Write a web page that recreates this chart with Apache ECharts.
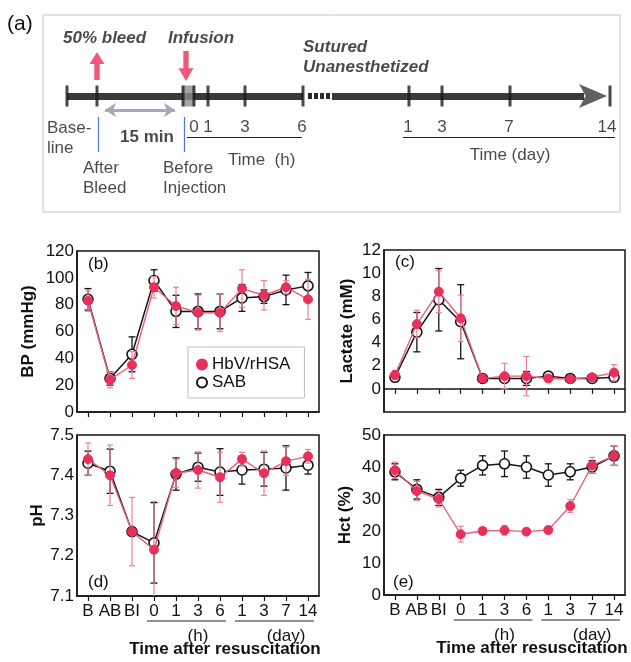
<!DOCTYPE html>
<html>
<head>
<meta charset="utf-8">
<script src="https://cdn.jsdelivr.net/npm/echarts@6/dist/echarts.min.js"></script>
<style>
  html, body { margin: 0; padding: 0; background: #fff; }
  #main { width: 631px; height: 662px; }
</style>
</head>
<body>
<div id="main"></div>
<script>
"use strict";

/* ---------- data ---------- */
const categories = ["B", "AB", "BI", "0", "1", "3", "6", "1", "3", "7", "14"];

const bpHbv     = [83, 24, 35, 93, 79, 74, 74, 92, 87, 93, 84];
const bpHbvErr  = [8, 6, 10, 8, 14, 13, 14, 14, 11, 5, 15];
const bpSab     = [84, 25, 43, 98, 75, 75, 75, 85, 86, 91, 94];
const bpSabErr  = [8, 5, 13, 8, 12, 13, 13, 10, 5, 11, 10];

const lacHbv    = [1.2, 5.6, 8.4, 6.1, 0.9, 1.1, 1.1, 0.9, 0.85, 1.0, 1.4];
const lacHbvErr = [0.4, 1.2, 1.8, 2.0, 0.3, 1.1, 1.7, 0.3, 0.2, 0.3, 0.7];
const lacSab    = [1.0, 4.9, 7.7, 5.8, 0.9, 0.9, 0.9, 1.1, 0.9, 0.9, 1.0];
const lacSabErr = [0.3, 1.7, 2.7, 3.2, 0.3, 0.3, 0.6, 0.3, 0.2, 0.2, 0.2];

const phHbv     = [7.44, 7.40, 7.26, 7.215, 7.405, 7.413, 7.395, 7.44, 7.405, 7.435, 7.447];
const phHbvErr  = [0.04, 0.075, 0.085, 0.12, 0.035, 0.045, 0.062, 0.017, 0.055, 0.035, 0.017];
const phSab     = [7.43, 7.41, 7.26, 7.232, 7.403, 7.42, 7.408, 7.413, 7.415, 7.418, 7.425];
const phSabErr  = [0.03, 0.055, 0, 0.10, 0.04, 0.035, 0.058, 0.035, 0.042, 0.055, 0.022];

const hctHbv    = [39, 32.5, 30, 19, 20, 20.2, 19.8, 20.3, 27.8, 40.5, 43.5];
const hctHbvErr = [2.5, 3, 2.5, 2.5, 1, 1.5, 1, 1, 2, 2.5, 3];
const hctSab    = [38.5, 33, 30.5, 36.5, 40.5, 41, 40, 37.5, 38.5, 40, 43.5];
const hctSabErr = [2.5, 3, 2.5, 2.5, 3, 4, 3.5, 3.5, 2.5, 2, 3];

/* ---------- timeline schematic (panel a), in box units ---------- */
const tlY        = 81;
const tlSegments = [[24, 260], [289, 541]];
const tlDots     = [[265, 287]];
const tlTicks    = [24, 54, 140, 151, 165, 202, 260, 366, 399, 467, 567];
const tlBlock    = [145.5];
const tlHead     = [550];
const tlUpArrow  = [[54, 51]];
const tlDownArrow = [[143, 51]];
const tlBlueLines = [[55, 102, 137], [141, 102, 137]];
const tlUnderlines = [[144, 259, 122], [360, 572, 122]];
const tlSpan     = [[62, 132, 95]];
const tlTexts = [
  [20, 23, "50% bleed", "left", "bi"],
  [125, 23, "Infusion", "left", "bi"],
  [260, 32, "Sutured", "left", "bi"],
  [260, 52, "Unanesthetized", "left", "bi"],
  [4, 113, "Base-", "left", ""],
  [4, 133, "line", "left", ""],
  [77, 122, "15 min", "left", "b"],
  [40, 153, "After", "left", ""],
  [40, 173, "Bleed", "left", ""],
  [120, 153, "Before", "left", ""],
  [120, 173, "Injection", "left", ""],
  [151, 112, "0", "center", ""],
  [165, 112, "1", "center", ""],
  [202, 112, "3", "center", ""],
  [259, 112, "6", "center", ""],
  [365, 112, "1", "center", ""],
  [399, 112, "3", "center", ""],
  [466, 112, "7", "center", ""],
  [564, 112, "14", "center", ""],
  [185, 145, "Time  (h)", "left", ""],
  [467, 140, "Time (day)", "center", ""]
];

const FONT = "Liberation Sans, Arial, Helvetica, sans-serif";
const RED = "#e8305a";
const RED_LINE = "#ec5f7e";
const RED_ERR = "#ef8098";
const BLACK = "#151515";

/* ---------- panels b-e ---------- */
const panels = [
  { label: "(b)", grid: { left: 77, top: 251, width: 242, height: 161 }, min: 0, max: 120, interval: 20,
    name: "BP (mmHg)", nameGap: 40, hbv: bpHbv, hbvErr: bpHbvErr, sab: bpSab, sabErr: bpSabErr, showX: false,
    tag: [88, 264] },
  { label: "(c)", grid: { left: 384, top: 250, width: 241, height: 162 }, min: -2, max: 12, interval: 2,
    name: "Lactate (mM)", nameGap: 28, hbv: lacHbv, hbvErr: lacHbvErr, sab: lacSab, sabErr: lacSabErr, showX: false,
    tag: [395, 262], fmt: v => (v < 0 ? "" : v) },
  { label: "(d)", grid: { left: 77, top: 435, width: 242, height: 161 }, min: 7.1, max: 7.5, interval: 0.1,
    name: "pH", nameGap: 31, hbv: phHbv, hbvErr: phHbvErr, sab: phSab, sabErr: phSabErr, showX: true,
    tag: [88, 582], fmt: v => v.toFixed(1) },
  { label: "(e)", grid: { left: 384, top: 435, width: 241, height: 160 }, min: 0, max: 50, interval: 10,
    name: "Hct (%)", nameGap: 30, hbv: hctHbv, hbvErr: hctHbvErr, sab: hctSab, sabErr: hctSabErr, showX: true,
    tag: [393, 582] }
];

function errorBar(color, width, cap) {
  return function (params, api) {
    const i = api.value(0);
    if (api.value(1) === api.value(2)) return null;
    const lo = api.coord([i, api.value(1)]);
    const hi = api.coord([i, api.value(2)]);
    const style = { stroke: color, lineWidth: width };
    return {
      type: "group",
      children: [
        { type: "line", shape: { x1: lo[0], y1: lo[1], x2: hi[0], y2: hi[1] }, style },
        { type: "line", shape: { x1: lo[0] - cap, y1: lo[1], x2: lo[0] + cap, y2: lo[1] }, style },
        { type: "line", shape: { x1: hi[0] - cap, y1: hi[1], x2: hi[0] + cap, y2: hi[1] }, style }
      ]
    };
  };
}

const grids = [], xAxes = [], yAxes = [], series = [];

panels.forEach((p, i) => {
  grids.push(Object.assign({ show: true, borderColor: BLACK, borderWidth: 1.5, backgroundColor: "transparent" }, p.grid));
  xAxes.push({
    type: "category", gridIndex: i, data: categories, boundaryGap: true,
    axisLine: { lineStyle: { color: BLACK, width: 1.5 } },
    axisTick: { show: true, alignWithLabel: true, length: 5, lineStyle: { color: BLACK, width: 1.2 } },
    axisLabel: { show: p.showX, interval: 0, margin: 7, fontSize: 17, color: "#111", fontFamily: FONT },
    splitLine: { show: false }
  });
  yAxes.push({
    type: "value", gridIndex: i, min: p.min, max: p.max, interval: p.interval,
    name: p.name, nameLocation: "middle", nameGap: p.nameGap, nameRotate: 90,
    nameTextStyle: { fontSize: 17, fontWeight: "bold", color: "#111", fontFamily: FONT },
    axisLine: { show: true, lineStyle: { color: BLACK, width: 1.5 } },
    axisTick: { show: false },
    axisLabel: { fontSize: 17, color: "#111", margin: 3, fontFamily: FONT, formatter: p.fmt || (v => v) },
    splitLine: { show: false }
  });

  series.push({
    type: "custom", xAxisIndex: i, yAxisIndex: i, silent: true, clip: true, z: 2,
    data: p.sab.map((v, k) => [k, v - p.sabErr[k], v + p.sabErr[k]]),
    renderItem: errorBar(BLACK, 1.3, 3.5)
  });
  series.push({
    type: "line", name: "SAB", xAxisIndex: i, yAxisIndex: i, data: p.sab, z: 3,
    symbol: "circle", symbolSize: 10,
    itemStyle: { color: "#fff", borderColor: BLACK, borderWidth: 1.6 },
    lineStyle: { color: BLACK, width: 1.5 }
  });
  series.push({
    type: "custom", xAxisIndex: i, yAxisIndex: i, silent: true, clip: true, z: 4,
    data: p.hbv.map((v, k) => [k, v - p.hbvErr[k], v + p.hbvErr[k]]),
    renderItem: errorBar(RED_ERR, 1.2, 3)
  });
  series.push({
    type: "line", name: "HbV/rHSA", xAxisIndex: i, yAxisIndex: i, data: p.hbv, z: 5,
    symbol: "circle", symbolSize: 9,
    itemStyle: { color: RED, borderColor: RED, borderWidth: 1 },
    lineStyle: { color: RED_LINE, width: 1.4 }
  });
});

/* ---------- panel a (timeline) ---------- */
const TL = panels.length;
grids.push({ left: 43, top: 15, width: 577, height: 197, show: true, borderColor: "#c6c6c6", borderWidth: 1 });
xAxes.push({ type: "value", gridIndex: TL, min: 0, max: 577, show: false });
yAxes.push({ type: "value", gridIndex: TL, min: 0, max: 197, inverse: true, show: false });

const tlBase = { xAxisIndex: TL, yAxisIndex: TL, silent: true, animation: false };
const linesBase = Object.assign({ type: "lines", coordinateSystem: "cartesian2d", clip: false }, tlBase);

series.push(Object.assign({}, linesBase, {
  data: tlSegments.map(s => ({ coords: [[s[0], tlY], [s[1], tlY]] })),
  lineStyle: { color: "#3a3a3a", width: 7, opacity: 1 }, z: 2
}));
series.push(Object.assign({}, linesBase, {
  data: tlDots.map(s => ({ coords: [[s[0], tlY], [s[1], tlY]] })),
  lineStyle: { color: "#2a2a2a", width: 6, opacity: 1, type: [4, 2] }, z: 2
}));
series.push(Object.assign({ type: "scatter" }, tlBase, {
  data: tlHead.map(x => [x, tlY]), z: 3,
  symbol: "path://M0,0 L30,12 L0,24 L7,12 Z", symbolSize: [28, 24], symbolKeepAspect: false,
  itemStyle: { color: "#3a3a3a" }
}));
series.push(Object.assign({ type: "scatter" }, tlBase, {
  data: tlBlock.map(x => [x, tlY]), z: 3,
  symbol: "rect", symbolSize: [10, 21], itemStyle: { color: "#8c8c94" }
}));
series.push(Object.assign({ type: "scatter" }, tlBase, {
  data: tlTicks.map(x => [x, tlY]), z: 4,
  symbol: "rect", symbolSize: [3, 21], itemStyle: { color: "#1a1a1a" }
}));
const arrowPath = "path://M7,0 L14,12 L9.5,12 L9.5,28 L4.5,28 L4.5,12 L0,12 Z";
series.push(Object.assign({ type: "scatter" }, tlBase, {
  data: tlUpArrow, symbol: arrowPath, symbolSize: [15, 28], itemStyle: { color: RED }, z: 4
}));
series.push(Object.assign({ type: "scatter" }, tlBase, {
  data: tlDownArrow, symbol: arrowPath, symbolSize: [15, 30], symbolRotate: 180, itemStyle: { color: RED }, z: 4
}));
series.push(Object.assign({}, linesBase, {
  data: tlBlueLines.map(s => ({ coords: [[s[0], s[1]], [s[0], s[2]]] })),
  lineStyle: { color: "#4f7fbf", width: 1.3, opacity: 1 }
}));
series.push(Object.assign({}, linesBase, {
  data: tlUnderlines.map(s => ({ coords: [[s[0], s[2]], [s[1], s[2]]] })),
  lineStyle: { color: "#222", width: 1.2, opacity: 1 }
}));
series.push(Object.assign({}, linesBase, {
  data: tlSpan.map(s => ({ coords: [[s[0], s[2]], [s[1], s[2]]] })),
  symbol: ["arrow", "arrow"], symbolSize: 11,
  lineStyle: { color: "#a3a9b8", width: 3, opacity: 1 }
}));
series.push(Object.assign({ type: "scatter" }, tlBase, {
  symbolSize: 1, itemStyle: { color: "rgba(0,0,0,0)" }, z: 6,
  data: tlTexts.map(t => ({
    value: [t[0], t[1]],
    label: {
      show: true, position: "inside", formatter: t[2], align: t[3], verticalAlign: "middle",
      fontSize: 17, fontFamily: FONT, color: "#1a1a1a",
      fontWeight: t[4].indexOf("b") >= 0 ? "bold" : "normal",
      fontStyle: t[4].indexOf("i") >= 0 ? "italic" : "normal"
    }
  }))
}));

const chart = echarts.init(document.getElementById("main"), null, { renderer: "canvas" });
chart.setOption({
  animation: false,
  backgroundColor: "#fff",
  textStyle: { fontFamily: FONT },
  legend: {
    data: ["HbV/rHSA", "SAB"], orient: "vertical", left: 188, top: 347,
    icon: "circle", itemWidth: 10, itemHeight: 10, itemGap: 1,
    padding: [9, 14, 7, 8], borderColor: "#bdbdbd", borderWidth: 1,
    textStyle: { fontSize: 17, color: "#111", fontFamily: FONT }
  },
  grid: grids,
  xAxis: xAxes,
  yAxis: yAxes,
  series: series
});

/* ---------- annotations: panel tags, group underlines ---------- */
const graphics = [
  { type: "text", left: 7, top: 14, style: { text: "(a)", font: "21px " + FONT, fill: "#111" } }
];
panels.forEach((p, i) => {
  graphics.push({ type: "text", x: p.tag[0], y: p.tag[1],
    style: { text: p.label, font: "17px " + FONT, fill: "#111", textVerticalAlign: "middle" } });
  if (!p.showX) return;
  const px = k => chart.convertToPixel({ xAxisIndex: i }, k);
  const yLine = p.grid.top + p.grid.height + 25;
  [[3, 6], [7, 10]].forEach(r => {
    graphics.push({ type: "line", silent: true,
      shape: { x1: px(r[0]) - 7, y1: yLine, x2: px(r[1]) + 6, y2: yLine },
      style: { stroke: "#222", lineWidth: 1.2 } });
  });
  graphics.push({ type: "text", x: px(4.6), y: yLine + 15,
    style: { text: "(h)", font: "17px " + FONT, fill: "#111", textAlign: "center", textVerticalAlign: "middle" } });
  graphics.push({ type: "text", x: px(9.1), y: yLine + 15,
    style: { text: "(day)", font: "17px " + FONT, fill: "#111", textAlign: "center", textVerticalAlign: "middle" } });
  graphics.push({ type: "text", x: p.grid.left + 148, y: yLine + 28,
    style: { text: "Time after resuscitation", font: "bold 17px " + FONT, fill: "#111", textAlign: "center", textVerticalAlign: "middle" } });
});
chart.setOption({ graphic: graphics });
</script>
</body>
</html>
